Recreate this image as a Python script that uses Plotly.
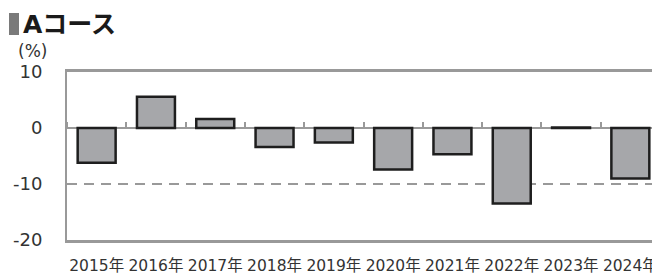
import plotly.graph_objects as go

years = ["2015年", "2016年", "2017年", "2018年", "2019年", "2020年", "2021年", "2022年", "2023年", "2024年"]
returns = [-6.2, 5.6, 1.6, -3.4, -2.6, -7.4, -4.7, -13.5, 0.1, -9.0]
y_ticks = [10, 0, -10, -20]
y_tick_text = ["10", "0", "-10", "-20"]
title_text = "Aコース"
unit_text = "(%)"

AXIS = "#999999"
PAGE_OFF = 8  # default body margin of the html page
W, H = 660 - PAGE_OFF, 275 - PAGE_OFF
L, R, T, B = 67 - PAGE_OFF, 0, 72 - PAGE_OFF, 35
PW, PH = W - L - R, H - T - B

fig = go.Figure()
fig.add_trace(go.Bar(
    x=years, y=returns,
    marker=dict(color="#a6a7aa", line=dict(color="#1e1e1e", width=2.5)),
    showlegend=False, hoverinfo="x+y",
))
fig.add_trace(go.Scatter(x=years, y=[None] * len(years), xaxis="x2", yaxis="y",
                         mode="lines", showlegend=False, hoverinfo="skip"))

font_num = "DejaVu Sans, Noto Sans CJK JP, sans-serif"

def px_x(page_x):
    return (page_x - PAGE_OFF - L) / PW

def px_y(page_y):
    return (H - B - (page_y - PAGE_OFF)) / PH

fig.update_layout(
    width=W, height=H,
    margin=dict(l=L, r=R, t=T, b=B, autoexpand=False),
    plot_bgcolor="white", paper_bgcolor="white",
    bargap=0.36,
    xaxis=dict(
        type="category", categoryorder="array", categoryarray=years,
        range=[-0.5, len(years) - 0.5], automargin=False,
        showline=True, linecolor=AXIS, linewidth=2.5, mirror=True,
        ticks="", showgrid=False,
        tickfont=dict(family=font_num, size=15.5, color="#333333"),
        ticklabelstandoff=10,
    ),
    xaxis2=dict(
        type="category", categoryorder="array", categoryarray=years,
        range=[-0.5, len(years) - 0.5], automargin=False,
        overlaying="x", anchor="free", position=2 / 3, side="top",
        showline=True, linecolor=AXIS, linewidth=2,
        ticks="outside", ticklen=5, tickwidth=2, tickcolor=AXIS,
        tickson="boundaries", showticklabels=False, showgrid=False,
        layer="below traces",
    ),
    yaxis=dict(
        range=[-20, 10], tickvals=y_ticks, ticktext=y_tick_text, automargin=False,
        showline=True, linecolor=AXIS, linewidth=2,
        showgrid=True, gridcolor=AXIS, gridwidth=2, griddash="10px,7px",
        zeroline=False, ticks="",
        tickfont=dict(family=font_num, size=18, color="#333333"),
        ticklabelstandoff=19,
    ),
    shapes=[
        dict(type="rect", xref="paper", yref="paper",
             x0=px_x(9), x1=px_x(19), y0=px_y(35), y1=px_y(13),
             fillcolor="#7a7a7a", line=dict(width=0)),
    ],
    annotations=[
        dict(text='<b>' + title_text + '</b>',
             xref="paper", yref="paper", x=px_x(21), y=px_y(8),
             xanchor="left", yanchor="top", showarrow=False,
             font=dict(family="DejaVu Sans, Noto Sans CJK JP", size=25, color="#1a1a1a")),
        dict(text=unit_text, xref="paper", yref="paper", x=px_x(49), y=px_y(39),
             xanchor="right", yanchor="top", showarrow=False,
             font=dict(family=font_num, size=17, color="#333333")),
    ],
)
fig.write_html("out.html")
